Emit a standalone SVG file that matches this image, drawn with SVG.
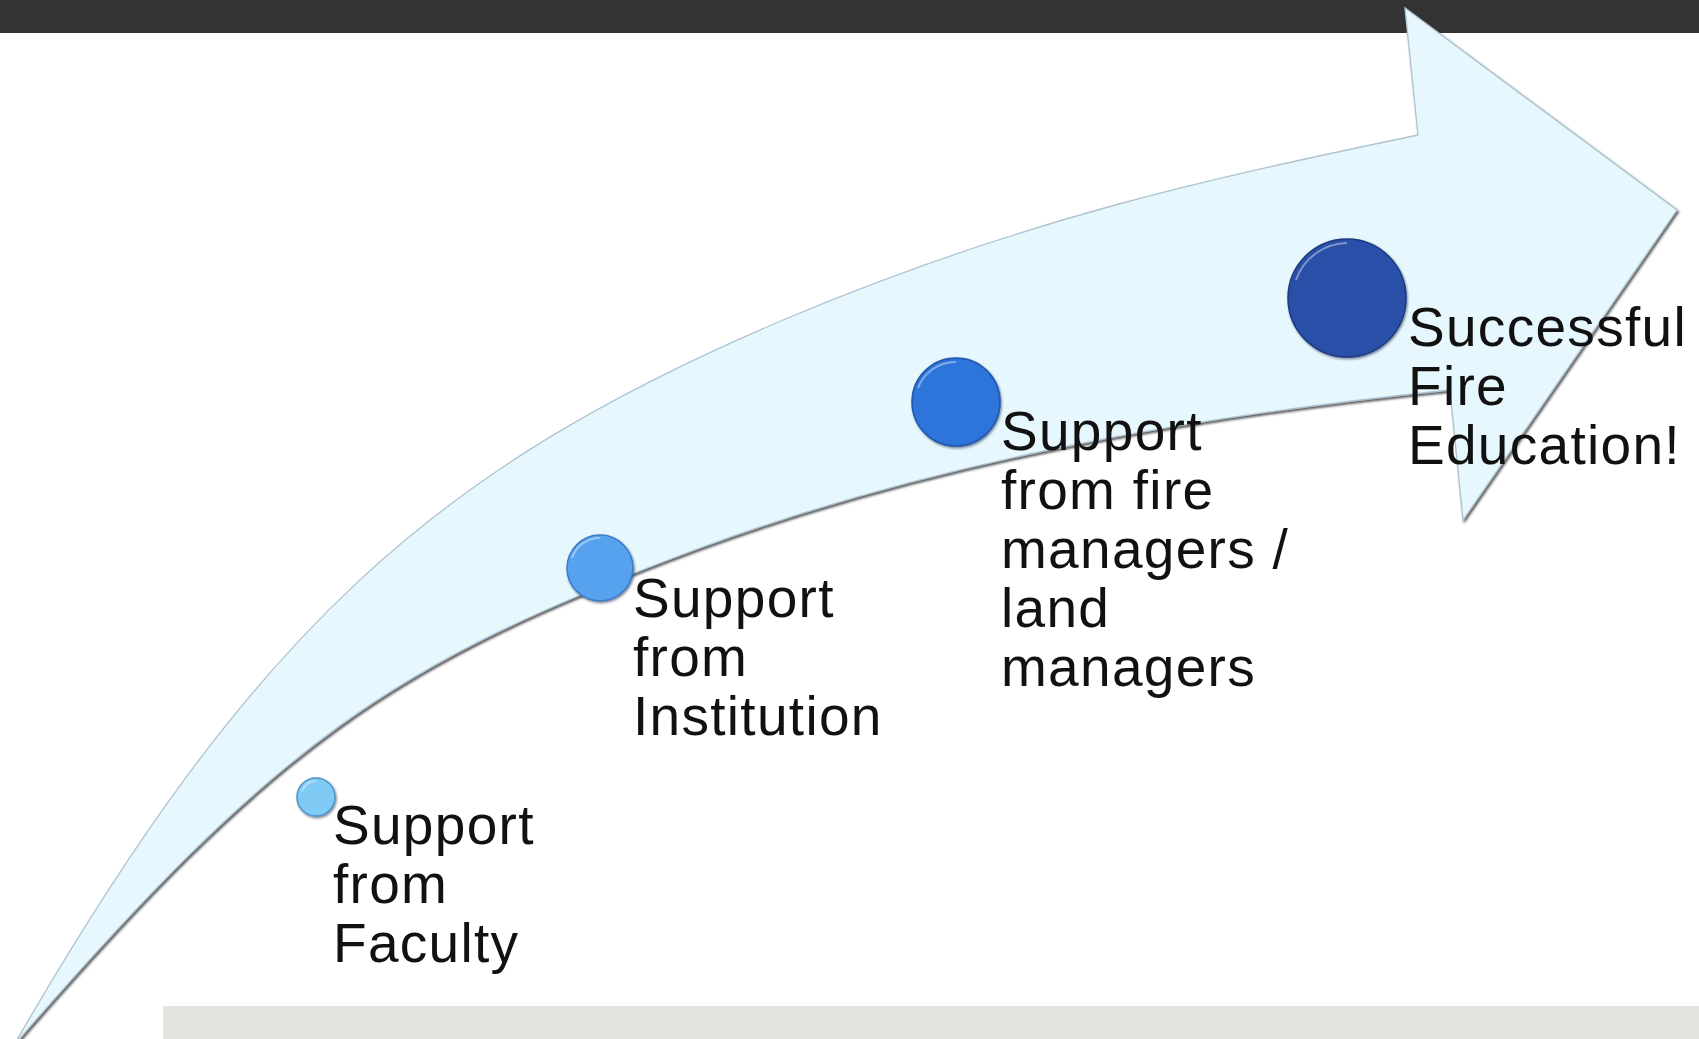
<svg xmlns="http://www.w3.org/2000/svg" width="1699" height="1039" viewBox="0 0 1699 1039">
  <style>
    .lbl { font-family: "Liberation Sans", Arial, sans-serif; font-size: 55px; letter-spacing: 1.3px; fill: #111111; }
    .dot { stroke-width: 1.5; filter: url(#csh); }
    .hl { fill: none; stroke: #ffffff; stroke-opacity: 0.4; stroke-width: 2; }
  </style>
  <defs>
    <filter id="ash" x="-5%" y="-5%" width="110%" height="110%">
      <feDropShadow dx="1.5" dy="2" stdDeviation="1.3" flood-color="#2a2a2a" flood-opacity="0.75"/>
    </filter>
    <filter id="csh" x="-20%" y="-20%" width="140%" height="140%">
      <feDropShadow dx="1" dy="1.5" stdDeviation="1" flood-color="#0a1a40" flood-opacity="0.55"/>
    </filter>
  </defs>

  <rect x="0" y="0" width="1699" height="1039" fill="#ffffff"/>
  <rect id="topbar" x="0" y="0" width="1699" height="33" fill="#333333"/>
  <rect id="footbar" x="163" y="1006" width="1536" height="33" fill="#E3E4DD"/>

  <g id="connectors">
    <path id="arrow" filter="url(#ash)" fill="#E6F8FD" stroke="#AFC3D2" stroke-width="1.3" stroke-linejoin="miter"
      d="M14,1045 C254,629 433,469 783,320 C1023,219 1203,180 1418,135 L1405,8 L1677,210 L1463,520 L1450,390 C1196,416 939,460 700,548 C390,663 276,743 14,1045 Z"/>
  </g>

  <g id="node-faculty">
    <circle class="dot" cx="316" cy="797" r="19" fill="#80CAF6" stroke="#4F95C8"/>
    <path class="hl" d="M302,791 A15,15 0 0 1 316,781"/>
    <text class="lbl" x="333" y="844">Support<tspan x="333" dy="59">from</tspan><tspan x="333" dy="59">Faculty</tspan></text>
  </g>

  <g id="node-institution">
    <circle class="dot" cx="600" cy="568" r="33" fill="#57A2EE" stroke="#3A7CC4"/>
    <path class="hl" d="M572,558 A29,29 0 0 1 600,538"/>
    <text class="lbl" x="633" y="617">Support<tspan x="633" dy="59">from</tspan><tspan x="633" dy="59">Institution</tspan></text>
  </g>

  <g id="node-managers">
    <circle class="dot" cx="956" cy="402" r="44" fill="#2F74DB" stroke="#2158AE"/>
    <path class="hl" d="M918,388 A40,40 0 0 1 956,362"/>
    <text class="lbl" x="1001" y="450">Support<tspan x="1001" dy="59">from fire</tspan><tspan x="1001" dy="59">managers /</tspan><tspan x="1001" dy="59">land</tspan><tspan x="1001" dy="59">managers</tspan></text>
  </g>

  <g id="node-success">
    <circle class="dot" cx="1347" cy="298" r="59" fill="#2C4FA8" stroke="#1E3A82"/>
    <path class="hl" d="M1296,280 A55,55 0 0 1 1347,243"/>
    <text class="lbl" x="1408" y="346">Successful<tspan x="1408" dy="59">Fire</tspan><tspan x="1408" dy="59">Education!</tspan></text>
  </g>
</svg>
